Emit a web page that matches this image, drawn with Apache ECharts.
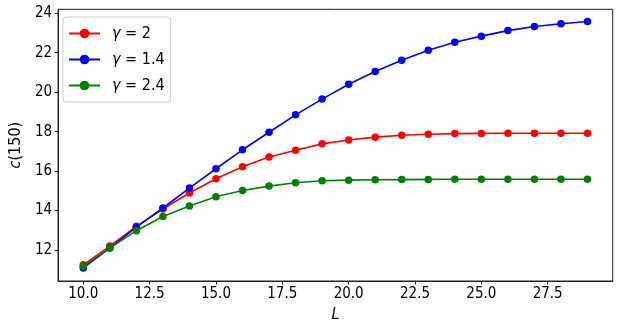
<!DOCTYPE html>
<html><head><meta charset="utf-8">
<script src="https://cdn.jsdelivr.net/npm/echarts@6/dist/echarts.min.js"></script>
<style>html,body{margin:0;padding:0;background:#fff}#c{width:620px;height:330px}</style>
</head><body><div id="c"></div>
<script>
const L = [10,11,12,13,14,15,16,17,18,19,20,21,22,23,24,25,26,27,28,29];
const gamma2 = [11.25,12.2,13.2,14.08,14.89,15.61,16.22,16.71,17.06,17.38,17.58,17.72,17.82,17.87,17.9,17.91,17.92,17.92,17.92,17.92];
const gamma14 = [11.09,12.1,13.16,14.13,15.14,16.12,17.08,17.97,18.85,19.65,20.4,21.05,21.62,22.13,22.53,22.84,23.12,23.33,23.47,23.58];
const gamma24 = [11.18,12.1,12.98,13.7,14.23,14.7,15.02,15.24,15.41,15.51,15.54,15.56,15.57,15.58,15.59,15.59,15.59,15.59,15.59,15.59];
const xTicks = [10,12.5,15,17.5,20,22.5,25,27.5];
const yTicks = [12,14,16,18,20,22,24];
const names = ['γ = 2','γ = 1.4','γ = 2.4'];
const colors = ['#ff0000','#0000ff','#008000'];

const font = '"DejaVu Sans Condensed", "DejaVu Sans"';
const zip = a => L.map((x,i)=>[x,a[i]]);
const mk = (name,data,color) => ({
  name, type:'line', data: zip(data), symbol:'circle', symbolSize:7.5,
  lineStyle:{color, width:1.6}, itemStyle:{color}, animation:false
});
const chart = echarts.init(document.getElementById('c'));
chart.setOption({
  animation:false,
  grid:{left:55.3, right:7.3, top:9.3, bottom:49, show:true, borderColor:'#222', borderWidth:1, backgroundColor:'transparent'},
  legend:{
    orient:'vertical', left:63, top:17, itemWidth:31, itemHeight:12, itemGap:10,
    padding:[8.5,6,8.5,5], borderColor:'#ccc', borderWidth:1, borderRadius:3, backgroundColor:'#fff',
    data: names,
    formatter: n => '{i|γ}{t|' + n.slice(1) + '}',
    textStyle:{padding:[0,0,0,7], rich:{i:{fontFamily:font, fontStyle:'italic', fontSize:16, lineHeight:17, color:'#000'}, t:{fontFamily:font, fontSize:16, lineHeight:17, color:'#000'}}}
  },
  xAxis:{type:'value', min:9.05, max:29.95, splitLine:{show:false},
    axisLine:{show:true, onZero:false, lineStyle:{color:'#222'}},
    axisTick:{show:true, length:3.5, lineStyle:{color:'#222'}, customValues:xTicks},
    axisLabel:{customValues:xTicks, formatter:v=>v.toFixed(1), fontFamily:font, fontSize:15, color:'#000', margin:6},
    name:'L', nameLocation:'middle', nameGap:26,
    nameTextStyle:{fontFamily:font, fontStyle:'italic', fontSize:16, color:'#000'}
  },
  yAxis:{type:'value', min:10.43, max:24.2, splitLine:{show:false},
    axisLine:{show:true, onZero:false, lineStyle:{color:'#222'}},
    axisTick:{show:true, length:3.5, lineStyle:{color:'#222'}, customValues:yTicks},
    axisLabel:{customValues:yTicks, fontFamily:font, fontSize:15, color:'#000', margin:6},
    name:'{i|c}(150)', nameLocation:'middle', nameGap:34, nameRotate:90,
    nameTextStyle:{fontFamily:font, fontSize:16, color:'#000', rich:{i:{fontFamily:font, fontStyle:'italic', fontSize:16, color:'#000'}}}
  },
  series:[mk(names[0],gamma2,colors[0]), mk(names[1],gamma14,colors[1]), mk(names[2],gamma24,colors[2])]
});
</script></body></html>
